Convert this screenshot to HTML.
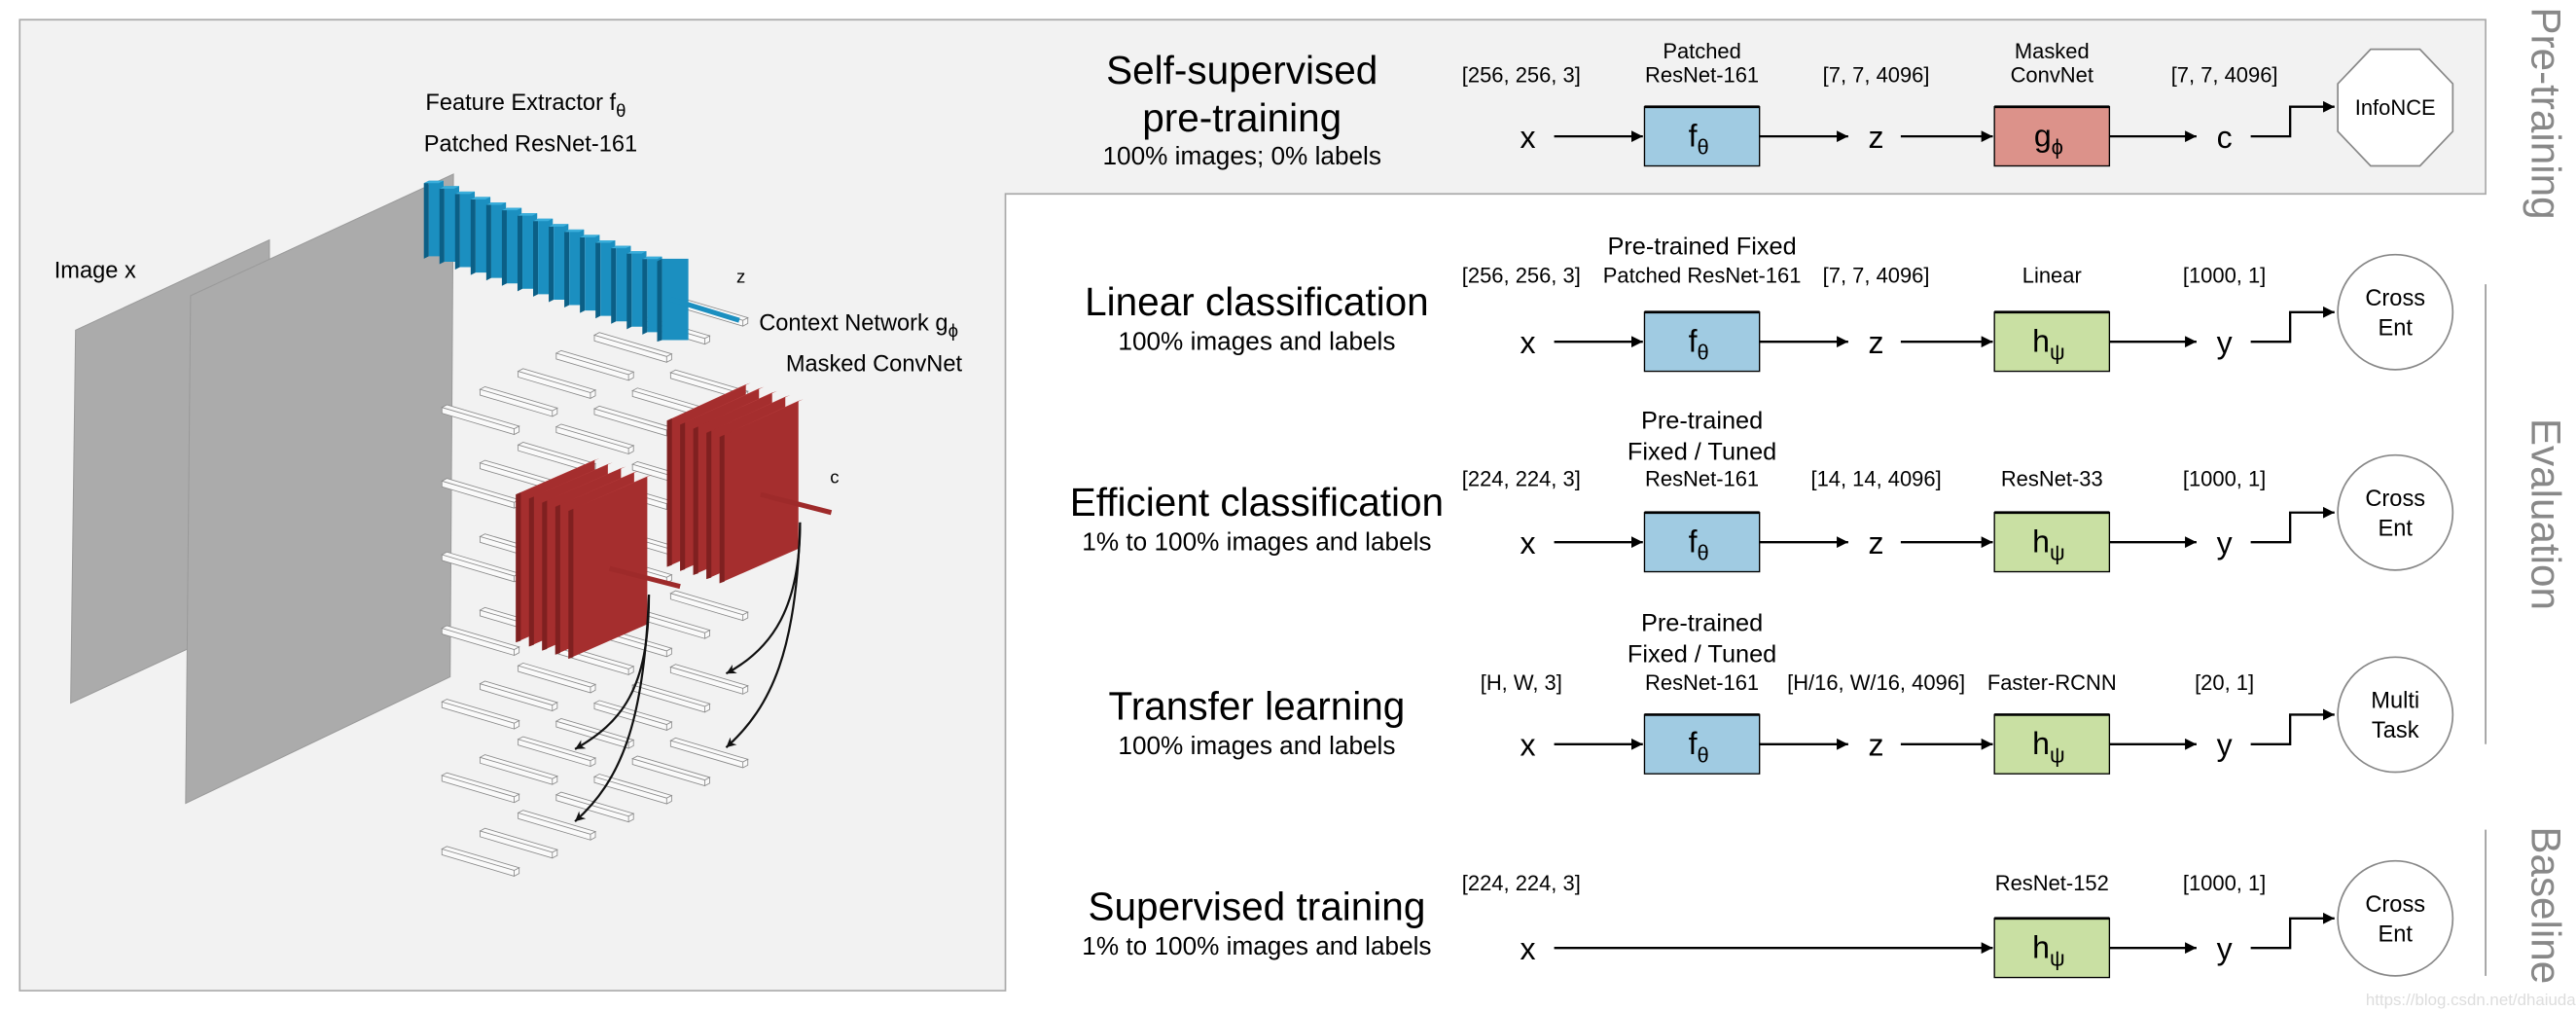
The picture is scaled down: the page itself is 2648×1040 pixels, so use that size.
<!DOCTYPE html>
<html><head><meta charset="utf-8"><style>
html,body{margin:0;padding:0;background:#fff;}
svg{display:block;}
text{font-family:"Liberation Sans",Arial,sans-serif;fill:#000;}
</style></head><body>
<svg width="2648" height="1040" viewBox="0 0 1568 616" preserveAspectRatio="none" xmlns="http://www.w3.org/2000/svg">
<defs>
<marker id="ah" viewBox="0 0 10 10" refX="10" refY="5" markerWidth="7" markerHeight="7" markerUnits="userSpaceOnUse" orient="auto"><path d="M0,0 L10,5 L0,10 z" fill="#000"/></marker>
<marker id="ah2" viewBox="0 0 10 10" refX="10" refY="5" markerWidth="6" markerHeight="6" markerUnits="userSpaceOnUse" orient="auto"><path d="M0,0 L10,5 L0,10 L3,5 z" fill="#111"/></marker>
<g id="bar"><path d="M0,0 L3,-1.6 L47,11.4 L44,13 Z M0,0 L44,13 L44,16.5 L0,3.5 Z M44,13 L47,11.4 L47,14.9 L44,16.5" fill="#fafafa" stroke="#8a8a8a" stroke-width="0.5"/></g>
<g id="barrow">
<use href="#bar" x="269" y="0"/><use href="#bar" x="292.2" y="-11"/><use href="#bar" x="315.4" y="-22"/><use href="#bar" x="338.6" y="-33"/><use href="#bar" x="361.8" y="-44"/><use href="#bar" x="385" y="-55"/><use href="#bar" x="408.2" y="-66"/>
</g>
<g id="bplate"><path d="M0,1.5 L3,0 L3,46 L0,47.5 Z" fill="#0b5f86"/><path d="M3,0 L12,0 L12,46 L3,46 Z" fill="#1b8fc0"/><path d="M0,1.5 L3,0 L12,0 L9,1.5 Z" fill="#3aaedb"/></g>
<g id="rplateB"><path d="M346,311 L394,290 L394,380 L346,401 Z" fill="#a52e2e"/><path d="M346,311 L349,309.7 L349,400 L346,401 Z" fill="#7f2020"/><path d="M346,311 L394,290 L397,289 L349,309.7 Z" fill="#b94040"/></g>
<g id="rplateA"><path d="M438,266 L486,244 L486,334 L438,355 Z" fill="#a52e2e"/><path d="M438,266 L441,264.6 L441,354 L438,355 Z" fill="#7f2020"/><path d="M438,266 L486,244 L489,243 L441,264.6 Z" fill="#b94040"/></g>
</defs>

<path d="M12,12 H1513 V118 H612 V603 H12 Z" fill="#f2f2f2" stroke="#aaa" stroke-width="1"/>

<path d="M46,201 L164,146 L164,372 L43,428 Z" fill="#ababab" stroke="#9a9a9a" stroke-width="0.6"/>
<path d="M116,180 L276,106 L274,412 L113,489 Z" fill="#ababab" stroke="#9a9a9a" stroke-width="0.6"/>

<g>
<use href="#barrow" y="248"/><use href="#barrow" y="292.8"/><use href="#barrow" y="337.6"/><use href="#barrow" y="382.4"/><use href="#barrow" y="427.2"/><use href="#barrow" y="472"/><use href="#barrow" y="516.8"/>
</g>

<g>
<use href="#bplate" x="258" y="110"/><use href="#bplate" x="267.5" y="113.3"/><use href="#bplate" x="277" y="116.6"/><use href="#bplate" x="286.5" y="119.9"/>
<use href="#bplate" x="296" y="123.2"/><use href="#bplate" x="305.5" y="126.5"/><use href="#bplate" x="315" y="129.8"/><use href="#bplate" x="324.5" y="133.1"/>
<use href="#bplate" x="334" y="136.4"/><use href="#bplate" x="343.5" y="139.7"/><use href="#bplate" x="353" y="143"/><use href="#bplate" x="362.5" y="146.3"/>
<use href="#bplate" x="372" y="149.6"/><use href="#bplate" x="381.5" y="152.9"/><use href="#bplate" x="391" y="156.2"/>
<path d="M400,159 L403,157.5 L403,207 L400,208 Z" fill="#0b5f86"/>
<rect x="403" y="157.5" width="16" height="49.5" fill="#1b8fc0"/>
</g>
<line x1="408" y1="182" x2="450" y2="195" stroke="#1b8fc0" stroke-width="3"/>

<g>
<use href="#rplateA" transform="translate(-32,-10)"/>
<use href="#rplateA" transform="translate(-24,-7.5)"/>
<use href="#rplateA" transform="translate(-16,-5)"/>
<use href="#rplateA" transform="translate(-8,-2.5)"/>
<use href="#rplateA"/>
</g>
<line x1="463" y1="301" x2="506" y2="312" stroke="#9e2a2a" stroke-width="3"/>
<g>
<use href="#rplateB" transform="translate(-32,-10)"/>
<use href="#rplateB" transform="translate(-24,-7.5)"/>
<use href="#rplateB" transform="translate(-16,-5)"/>
<use href="#rplateB" transform="translate(-8,-2.5)"/>
<use href="#rplateB"/>
</g>
<line x1="371" y1="346" x2="414" y2="357" stroke="#9e2a2a" stroke-width="3"/>

<g fill="none" stroke="#111" stroke-width="1.3" marker-end="url(#ah2)">
<path d="M395,362 C395,420 378,440 350,456"/>
<path d="M395,362 C392,440 378,475 350,500"/>
<path d="M487,318 C487,370 470,395 442,410"/>
<path d="M487,318 C485,395 470,430 442,455"/>
</g>

<text x="33" y="169" font-size="14">Image x</text>
<text x="320" y="67" font-size="14" text-anchor="middle">Feature Extractor f<tspan font-size="11" dy="4">θ</tspan></text>
<text x="323" y="92" font-size="14" text-anchor="middle">Patched ResNet-161</text>
<text x="451" y="172" font-size="11" text-anchor="middle">z</text>
<text x="462" y="201" font-size="14">Context Network g<tspan font-size="11" dy="4">ϕ</tspan></text>
<text x="532" y="226" font-size="14" text-anchor="middle">Masked ConvNet</text>
<text x="508" y="294" font-size="11" text-anchor="middle">c</text>

<!-- Row 1 -->
<text x="756" y="51" font-size="24" text-anchor="middle">Self-supervised</text>
<text x="756" y="80" font-size="24" text-anchor="middle">pre-training</text>
<text x="756" y="100" font-size="15.5" text-anchor="middle">100% images; 0% labels</text>
<text x="926" y="50" text-anchor="middle" font-size="13">[256, 256, 3]</text>
<text x="1036" y="35.5" text-anchor="middle" font-size="13">Patched</text>
<text x="1036" y="50" text-anchor="middle" font-size="13">ResNet-161</text>
<text x="1142" y="50" text-anchor="middle" font-size="13">[7, 7, 4096]</text>
<text x="1249" y="35.5" text-anchor="middle" font-size="13">Masked</text>
<text x="1249" y="50" text-anchor="middle" font-size="13">ConvNet</text>
<text x="1354" y="50" text-anchor="middle" font-size="13">[7, 7, 4096]</text>
<g transform="translate(0,83)">
<text x="930" y="7" font-size="19" text-anchor="middle">x</text>
<line x1="946" y1="0" x2="1000" y2="0" stroke="#000" stroke-width="1.4" marker-end="url(#ah)"/>
<rect x="1001" y="-18" width="70" height="36" fill="#a0cbe2" stroke="#000" stroke-width="0.8"/>
<line x1="1001" y1="-18" x2="1071" y2="-18" stroke="#000" stroke-width="1.6"/>
<text x="1034" y="6" font-size="19" text-anchor="middle">f<tspan font-size="13" dy="5">θ</tspan></text>
<line x1="1071" y1="0" x2="1125" y2="0" stroke="#000" stroke-width="1.4" marker-end="url(#ah)"/>
<text x="1142" y="7" font-size="19" text-anchor="middle">z</text>
<line x1="1157" y1="0" x2="1213" y2="0" stroke="#000" stroke-width="1.4" marker-end="url(#ah)"/>
<rect x="1214" y="-18" width="70" height="36" fill="#dc928a" stroke="#000" stroke-width="0.8"/>
<line x1="1214" y1="-18" x2="1284" y2="-18" stroke="#000" stroke-width="1.6"/>
<text x="1247" y="6" font-size="19" text-anchor="middle">g<tspan font-size="13" dy="5">ϕ</tspan></text>
<line x1="1284" y1="0" x2="1337" y2="0" stroke="#000" stroke-width="1.4" marker-end="url(#ah)"/>
<text x="1354" y="7" font-size="19" text-anchor="middle">c</text>
<path d="M1370,0 H1394 V-18 H1421" fill="none" stroke="#000" stroke-width="1.4" marker-end="url(#ah)"/>
</g>
<path d="M1443,30 L1473,30 L1493,51 L1493,80 L1473,101 L1443,101 L1423,80 L1423,51 Z" fill="#fff" stroke="#888" stroke-width="1"/>
<text x="1458" y="70" font-size="13" text-anchor="middle">InfoNCE</text>

<!-- Row 2 -->
<text x="765" y="192" font-size="24" text-anchor="middle">Linear classification</text>
<text x="765" y="213" font-size="15.5" text-anchor="middle">100% images and labels</text>
<text x="1036" y="155" font-size="15" text-anchor="middle">Pre-trained Fixed</text>
<text x="926" y="172" font-size="13" text-anchor="middle">[256, 256, 3]</text>
<text x="1036" y="172" font-size="13" text-anchor="middle">Patched ResNet-161</text>
<text x="1142" y="172" font-size="13" text-anchor="middle">[7, 7, 4096]</text>
<text x="1249" y="172" font-size="13" text-anchor="middle">Linear</text>
<text x="1354" y="172" font-size="13" text-anchor="middle">[1000, 1]</text>

<!-- Row 3 -->
<text x="765" y="314" font-size="24" text-anchor="middle">Efficient classification</text>
<text x="765" y="335" font-size="15.5" text-anchor="middle">1% to 100% images and labels</text>
<text x="1036" y="261" font-size="15" text-anchor="middle">Pre-trained</text>
<text x="1036" y="280" font-size="15" text-anchor="middle">Fixed / Tuned</text>
<text x="926" y="296" font-size="13" text-anchor="middle">[224, 224, 3]</text>
<text x="1036" y="296" font-size="13" text-anchor="middle">ResNet-161</text>
<text x="1142" y="296" font-size="13" text-anchor="middle">[14, 14, 4096]</text>
<text x="1249" y="296" font-size="13" text-anchor="middle">ResNet-33</text>
<text x="1354" y="296" font-size="13" text-anchor="middle">[1000, 1]</text>

<!-- Row 4 -->
<text x="765" y="438" font-size="24" text-anchor="middle">Transfer learning</text>
<text x="765" y="459" font-size="15.5" text-anchor="middle">100% images and labels</text>
<text x="1036" y="384" font-size="15" text-anchor="middle">Pre-trained</text>
<text x="1036" y="403" font-size="15" text-anchor="middle">Fixed / Tuned</text>
<text x="926" y="420" font-size="13" text-anchor="middle">[H, W, 3]</text>
<text x="1036" y="420" font-size="13" text-anchor="middle">ResNet-161</text>
<text x="1142" y="420" font-size="13" text-anchor="middle">[H/16, W/16, 4096]</text>
<text x="1249" y="420" font-size="13" text-anchor="middle">Faster-RCNN</text>
<text x="1354" y="420" font-size="13" text-anchor="middle">[20, 1]</text>

<!-- Row 5 -->
<text x="765" y="560" font-size="24" text-anchor="middle">Supervised training</text>
<text x="765" y="581" font-size="15.5" text-anchor="middle">1% to 100% images and labels</text>
<text x="926" y="542" font-size="13" text-anchor="middle">[224, 224, 3]</text>
<text x="1249" y="542" font-size="13" text-anchor="middle">ResNet-152</text>
<text x="1354" y="542" font-size="13" text-anchor="middle">[1000, 1]</text>

<g transform="translate(0,208)">
<text x="930" y="7" font-size="19" text-anchor="middle">x</text>
<line x1="946" y1="0" x2="1000" y2="0" stroke="#000" stroke-width="1.4" marker-end="url(#ah)"/>
<rect x="1001" y="-18" width="70" height="36" fill="#a0cbe2" stroke="#000" stroke-width="0.8"/>
<line x1="1001" y1="-18" x2="1071" y2="-18" stroke="#000" stroke-width="1.6"/>
<text x="1034" y="6" font-size="19" text-anchor="middle">f<tspan font-size="13" dy="5">θ</tspan></text>
<line x1="1071" y1="0" x2="1125" y2="0" stroke="#000" stroke-width="1.4" marker-end="url(#ah)"/>
<text x="1142" y="7" font-size="19" text-anchor="middle">z</text>
<line x1="1157" y1="0" x2="1213" y2="0" stroke="#000" stroke-width="1.4" marker-end="url(#ah)"/>
<rect x="1214" y="-18" width="70" height="36" fill="#c9e0a3" stroke="#000" stroke-width="0.8"/>
<line x1="1214" y1="-18" x2="1284" y2="-18" stroke="#000" stroke-width="1.6"/>
<text x="1247" y="6" font-size="19" text-anchor="middle">h<tspan font-size="13" dy="5">ψ</tspan></text>
<line x1="1284" y1="0" x2="1337" y2="0" stroke="#000" stroke-width="1.4" marker-end="url(#ah)"/>
<text x="1354" y="7" font-size="19" text-anchor="middle">y</text>
<path d="M1370,0 H1394 V-18 H1421" fill="none" stroke="#000" stroke-width="1.4" marker-end="url(#ah)"/>
<ellipse cx="1458" cy="-18" rx="35" ry="35" fill="#fff" stroke="#888" stroke-width="1"/>
<text x="1458" y="-22" font-size="14" text-anchor="middle">Cross</text>
<text x="1458" y="-4" font-size="14" text-anchor="middle">Ent</text>
</g>

<g transform="translate(0,330)">
<text x="930" y="7" font-size="19" text-anchor="middle">x</text>
<line x1="946" y1="0" x2="1000" y2="0" stroke="#000" stroke-width="1.4" marker-end="url(#ah)"/>
<rect x="1001" y="-18" width="70" height="36" fill="#a0cbe2" stroke="#000" stroke-width="0.8"/>
<line x1="1001" y1="-18" x2="1071" y2="-18" stroke="#000" stroke-width="1.6"/>
<text x="1034" y="6" font-size="19" text-anchor="middle">f<tspan font-size="13" dy="5">θ</tspan></text>
<line x1="1071" y1="0" x2="1125" y2="0" stroke="#000" stroke-width="1.4" marker-end="url(#ah)"/>
<text x="1142" y="7" font-size="19" text-anchor="middle">z</text>
<line x1="1157" y1="0" x2="1213" y2="0" stroke="#000" stroke-width="1.4" marker-end="url(#ah)"/>
<rect x="1214" y="-18" width="70" height="36" fill="#c9e0a3" stroke="#000" stroke-width="0.8"/>
<line x1="1214" y1="-18" x2="1284" y2="-18" stroke="#000" stroke-width="1.6"/>
<text x="1247" y="6" font-size="19" text-anchor="middle">h<tspan font-size="13" dy="5">ψ</tspan></text>
<line x1="1284" y1="0" x2="1337" y2="0" stroke="#000" stroke-width="1.4" marker-end="url(#ah)"/>
<text x="1354" y="7" font-size="19" text-anchor="middle">y</text>
<path d="M1370,0 H1394 V-18 H1421" fill="none" stroke="#000" stroke-width="1.4" marker-end="url(#ah)"/>
<ellipse cx="1458" cy="-18" rx="35" ry="35" fill="#fff" stroke="#888" stroke-width="1"/>
<text x="1458" y="-22" font-size="14" text-anchor="middle">Cross</text>
<text x="1458" y="-4" font-size="14" text-anchor="middle">Ent</text>
</g>

<g transform="translate(0,453)">
<text x="930" y="7" font-size="19" text-anchor="middle">x</text>
<line x1="946" y1="0" x2="1000" y2="0" stroke="#000" stroke-width="1.4" marker-end="url(#ah)"/>
<rect x="1001" y="-18" width="70" height="36" fill="#a0cbe2" stroke="#000" stroke-width="0.8"/>
<line x1="1001" y1="-18" x2="1071" y2="-18" stroke="#000" stroke-width="1.6"/>
<text x="1034" y="6" font-size="19" text-anchor="middle">f<tspan font-size="13" dy="5">θ</tspan></text>
<line x1="1071" y1="0" x2="1125" y2="0" stroke="#000" stroke-width="1.4" marker-end="url(#ah)"/>
<text x="1142" y="7" font-size="19" text-anchor="middle">z</text>
<line x1="1157" y1="0" x2="1213" y2="0" stroke="#000" stroke-width="1.4" marker-end="url(#ah)"/>
<rect x="1214" y="-18" width="70" height="36" fill="#c9e0a3" stroke="#000" stroke-width="0.8"/>
<line x1="1214" y1="-18" x2="1284" y2="-18" stroke="#000" stroke-width="1.6"/>
<text x="1247" y="6" font-size="19" text-anchor="middle">h<tspan font-size="13" dy="5">ψ</tspan></text>
<line x1="1284" y1="0" x2="1337" y2="0" stroke="#000" stroke-width="1.4" marker-end="url(#ah)"/>
<text x="1354" y="7" font-size="19" text-anchor="middle">y</text>
<path d="M1370,0 H1394 V-18 H1421" fill="none" stroke="#000" stroke-width="1.4" marker-end="url(#ah)"/>
<ellipse cx="1458" cy="-18" rx="35" ry="35" fill="#fff" stroke="#888" stroke-width="1"/>
<text x="1458" y="-22" font-size="14" text-anchor="middle">Multi</text>
<text x="1458" y="-4" font-size="14" text-anchor="middle">Task</text>
</g>

<g transform="translate(0,577)">
<text x="930" y="7" font-size="19" text-anchor="middle">x</text>
<line x1="946" y1="0" x2="1213" y2="0" stroke="#000" stroke-width="1.4" marker-end="url(#ah)"/>
<rect x="1214" y="-18" width="70" height="36" fill="#c9e0a3" stroke="#000" stroke-width="0.8"/>
<line x1="1214" y1="-18" x2="1284" y2="-18" stroke="#000" stroke-width="1.6"/>
<text x="1247" y="6" font-size="19" text-anchor="middle">h<tspan font-size="13" dy="5">ψ</tspan></text>
<line x1="1284" y1="0" x2="1337" y2="0" stroke="#000" stroke-width="1.4" marker-end="url(#ah)"/>
<text x="1354" y="7" font-size="19" text-anchor="middle">y</text>
<path d="M1370,0 H1394 V-18 H1421" fill="none" stroke="#000" stroke-width="1.4" marker-end="url(#ah)"/>
<ellipse cx="1458" cy="-18" rx="35" ry="35" fill="#fff" stroke="#888" stroke-width="1"/>
<text x="1458" y="-22" font-size="14" text-anchor="middle">Cross</text>
<text x="1458" y="-4" font-size="14" text-anchor="middle">Ent</text>
</g>

<line x1="1513" y1="173" x2="1513" y2="453" stroke="#999" stroke-width="1"/>
<line x1="1513" y1="505" x2="1513" y2="594" stroke="#999" stroke-width="1"/>
<text transform="translate(1541,69) rotate(90)" font-size="25" text-anchor="middle" style="fill:#888">Pre-training</text>
<text transform="translate(1541,313) rotate(90)" font-size="25" text-anchor="middle" style="fill:#888">Evaluation</text>
<text transform="translate(1541,551) rotate(90)" font-size="25" text-anchor="middle" style="fill:#888">Baseline</text>

<text x="1440" y="612" font-size="10" style="fill:#ddd">https://blog.csdn.net/dhaiuda</text>
</svg>
</body></html>
